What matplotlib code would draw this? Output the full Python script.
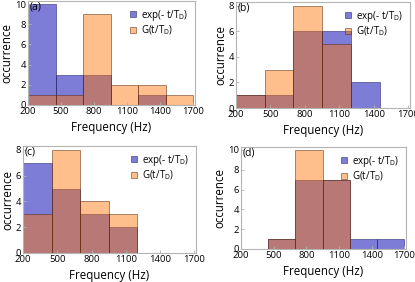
import numpy as np
import matplotlib
matplotlib.use("Agg")
import matplotlib.pyplot as plt

plt.rcParams["font.family"] = ["Open Sans", "DejaVu Sans"]

# histogram bins (Hz)
bin_edges = [200, 450, 700, 950, 1200, 1450, 1700]
xticks = [200, 500, 800, 1100, 1400, 1700]

# counts per bin, exp(-t/T_D) and G(t/T_D)
exp_a = [10, 3, 3, 0, 1, 0]
g_a = [1, 1, 9, 2, 2, 1]
exp_b = [1, 1, 6, 6, 2, 0]
g_b = [1, 3, 8, 5, 0, 0]
exp_c = [7, 5, 3, 2, 0, 0]
g_c = [3, 8, 4, 3, 0, 0]
exp_d = [0, 1, 7, 7, 1, 1]
g_d = [0, 1, 10, 7, 0, 0]

panels = [
    ("(a)", exp_a, g_a, [0, 2, 4, 6, 8, 10], 10.3, (28, 195, 1, 105)),
    ("(b)", exp_b, g_b, [0, 2, 4, 6, 8], 8.3, (236, 410, 2, 108)),
    ("(c)", exp_c, g_c, [0, 2, 4, 6, 8], 8.3, (23, 196, 146, 253)),
    ("(d)", exp_d, g_d, [0, 2, 4, 6, 8, 10], 10.3, (241, 406, 147, 249)),
]

W, H = 415, 282
fig = plt.figure(figsize=(W / 100, H / 100), dpi=100)

blue = (0.15, 0.15, 0.74, 0.6)
orange = (1.0, 0.45, 0.0, 0.45)
frame = "#b4b4b4"

for label, ev, gv, yticks, ytop, (l, r, t, b) in panels:
    ax = fig.add_axes([l / W, 1 - b / H, (r - l) / W, (b - t) / H])
    left = bin_edges[:-1]
    width = np.diff(bin_edges)
    ax.bar(left, ev, width=width, align="edge", color=blue,
           edgecolor=(0.1, 0.1, 0.35, 0.6), linewidth=0.6,
           label=r"exp(- t/T$_\mathregular{D}$)")
    ax.bar(left, gv, width=width, align="edge", color=orange,
           edgecolor=(0.35, 0.15, 0.05, 0.6), linewidth=0.6,
           label=r"G(t/T$_\mathregular{D}$)")
    ax.set_xlim(200, 1715)
    ax.set_ylim(0, ytop)
    ax.set_xticks(xticks)
    ax.set_yticks(yticks)
    for s in ax.spines.values():
        s.set_color(frame)
        s.set_linewidth(0.8)
    ax.tick_params(direction="in", length=2, width=0.6, color=frame,
                   labelsize=6.8, pad=1.5)
    ax.set_xlabel("Frequency (Hz)", fontsize=8.3, labelpad=3.5)
    ax.set_ylabel("occurrence", fontsize=8.3, labelpad=1)
    ax.text(0.01, 0.995, label, transform=ax.transAxes, fontsize=7.5,
            va="top", ha="left")
    ax.legend(loc="upper right", frameon=False, fontsize=7.0,
              handlelength=0.6, handleheight=0.6, handletextpad=0.5,
              borderaxespad=0.4, borderpad=0.3, labelspacing=0.05)

fig.savefig("out.png", dpi=100)
